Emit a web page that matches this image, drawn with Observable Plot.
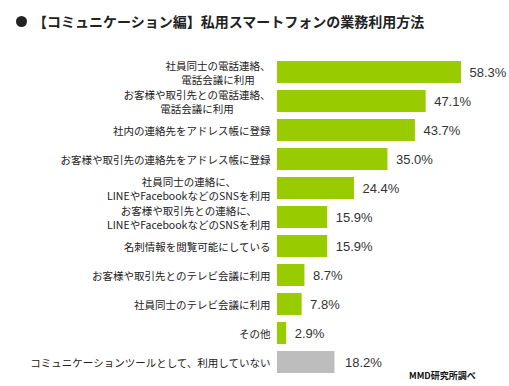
<!DOCTYPE html>
<html><head><meta charset="utf-8">
<script src="https://cdn.jsdelivr.net/npm/d3@7"></script>
<script src="https://cdn.jsdelivr.net/npm/@observablehq/plot@0.6"></script>
<style>
body{margin:0;background:#fff;}
#wrap{position:relative;width:509px;height:386px;font-family:"Noto Sans CJK JP",sans-serif;overflow:hidden;}
#title{position:absolute;left:16px;top:14px;font-size:14px;line-height:15px;font-weight:bold;color:#222;display:flex;align-items:center;white-space:nowrap;}
#title .dot{width:11px;height:11px;border-radius:50%;background:#222;margin-right:6px;flex:none;}
#caption{position:absolute;left:409px;top:371px;font-size:9px;line-height:10px;font-weight:bold;color:#111;white-space:nowrap;}
#chart{position:absolute;left:0;top:0;}
</style></head>
<body>
<div id="wrap">
  <div id="chart"></div>
  <div id="title"><span class="dot"></span><span>【コミュニケーション編】私用スマートフォンの業務利用方法</span></div>
  <div id="caption">MMD研究所調べ</div>
</div>
<script>
const labels = [
  "社員同士の電話連絡、\n電話会議に利用",
  "お客様や取引先との電話連絡、\n電話会議に利用",
  "社内の連絡先をアドレス帳に登録",
  "お客様や取引先の連絡先をアドレス帳に登録",
  "社員同士の連絡に、\nLINEやFacebookなどのSNSを利用",
  "お客様や取引先との連絡に、\nLINEやFacebookなどのSNSを利用",
  "名刺情報を閲覧可能にしている",
  "お客様や取引先とのテレビ会議に利用",
  "社員同士のテレビ会議に利用",
  "その他",
  "コミュニケーションツールとして、利用していない"
];
const values = [58.3, 47.1, 43.7, 35.0, 24.4, 15.9, 15.9, 8.7, 7.8, 2.9, 18.2];
const groups = ["use","use","use","use","use","use","use","use","use","use","none"];

const data = labels.map((label, i) => ({label, value: values[i], group: groups[i]}));
const fmt = d => d.value.toFixed(1) + "%";
const valueStyle = {x: "value", y: "label", text: fmt, textAnchor: "start",
  fontSize: 13, fill: "#333", fontFamily: "Liberation Sans, Arial, sans-serif"};

const chart = Plot.plot({
  width: 509,
  height: 386,
  marginTop: 57,
  marginBottom: 8,
  marginLeft: 277,
  marginRight: 48,
  style: {background: "transparent", overflow: "visible"},
  x: {domain: [0, 58.3], axis: null},
  y: {domain: labels, paddingInner: 0.23, paddingOuter: 0, axis: null},
  color: {domain: ["use","none"], range: ["#99cc00", "#bdbdbd"]},
  marks: [
    Plot.barX(data, {x: "value", y: "label", fill: "group"}),
    Plot.text(data, {x: 0, y: "label", text: "label", textAnchor: "end", dx: -7,
      fontSize: 10.5, lineHeight: 1.3, fill: "#222", fontFamily: "Noto Sans CJK JP, sans-serif"}),
    Plot.text(data.filter(d => d.group === "use"), {...valueStyle, dx: 8}),
    Plot.text(data.filter(d => d.group === "none"), {...valueStyle, dx: 10})
  ]
});
document.getElementById("chart").append(chart);

// center multi-line labels inside a right-aligned block
chart.querySelectorAll("text").forEach(t => {
  const spans = t.querySelectorAll("tspan");
  if (spans.length > 1) {
    const L = Math.max(...Array.from(spans, s => s.getComputedTextLength()));
    t.setAttribute("text-anchor", "middle");
    spans.forEach(s => s.setAttribute("x", -L / 2));
  }
});
</script>
</body></html>
